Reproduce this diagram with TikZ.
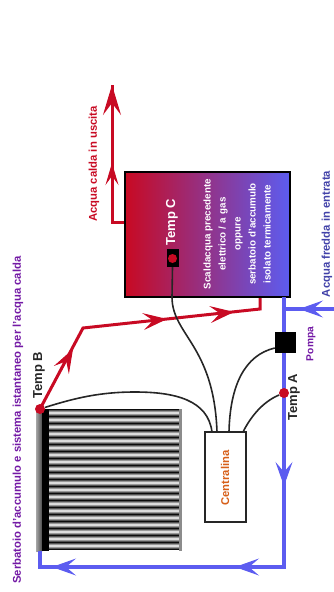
\documentclass[tikz,border=0pt]{standalone}
\usepackage{fontspec}
\setmainfont{Liberation Sans}
\usepackage{tikz}
\usetikzlibrary{arrows.meta}
\definecolor{hotred}{RGB}{200,10,35}
\definecolor{coldblue}{RGB}{92,92,240}
\definecolor{labelpurple}{RGB}{115,25,165}
\definecolor{labelorange}{RGB}{215,95,25}
\newcommand\sidelabel[1]{\fontsize{#1}{#1}\selectfont\bfseries}
\tikzset{
  hotpipe/.style={draw=hotred, line width=3pt},
  coldpipe/.style={draw=coldblue, line width=3.2pt},
  pipetip/.style={line width=1pt, -{Stealth[length=24pt, width=17pt, inset=10pt]}},
  wire/.style={draw=black!85, line width=1.6pt},
  sensor/.style={circle, fill=hotred, inner sep=0pt, minimum size=10pt},
  blackbox/.style={fill=black, inner sep=0pt},
  uplabel/.style={rotate=90, inner sep=0pt, font=\sidelabel{11.3}},
}

\begin{document}
\begin{tikzpicture}[x=1pt, y=-1pt]
\useasboundingbox (0,0) rectangle (334,592);
% collector fins (drawn first; the headers cover their ends)
\foreach \fin in {0,...,19}
  \shade[top color=black!95, bottom color=black!95, middle color=white]
    (49,409+7*\fin) rectangle (180,416+7*\fin);
\fill[black!45] (179,409) rectangle (182,551);
\shade[left color=black!35, right color=black!70] (36,409) rectangle (42,551);
\fill[black] (42,409) rectangle (49,551);
% tank and boxes
\node[draw=black, line width=2pt, left color=hotred, right color=coldblue, inner sep=0pt,
      minimum width=165pt, minimum height=125pt] (tank) at (207.5,234.5) {};
\node[draw=black!85, line width=1.6pt, fill=white, inner sep=0pt,
      minimum width=41pt, minimum height=90pt] (centralina) at (225.5,477) {};
\node[blackbox, minimum width=12pt, minimum height=18pt] (probeC) at (172.5,258) {};
% pipe corners
\coordinate (hotOutA) at (112,222);
\coordinate (hotOutB) at (112,163);
\coordinate (hotOutC) at (112,85);
\coordinate (hotInA) at (73,349);
\coordinate (hotInB) at (83,328);
\coordinate (hotInC) at (167,319);
\coordinate (hotInD) at (234,312);
\coordinate (hotInE) at (260,309);
\coordinate (coldTop) at (284,297);
\coordinate (coldJoin) at (284,309);
\coordinate (coldIn) at (334,309);
\coordinate (coldInTip) at (299,309);
\coordinate (coldDownTip) at (284,486);
\coordinate (coldCorner) at (284,567);
\coordinate (coldTipA) at (235,567);
\coordinate (coldTipB) at (52,567);
\coordinate (coldEnd) at (40,567);
\coordinate (coldHeader) at (40,551);
\coordinate (tempBpos) at (40,409);
% hot water
\draw[hotpipe] (tank.west |- hotOutA) -- (hotOutA) -- (hotOutC);
\draw[hotpipe] (tempBpos) -- (hotInB) -- (hotInE) -- (hotInE |- tank.south);
\draw[hotpipe, line width=1pt, -{Stealth[length=22pt, width=13pt, inset=9pt]}] (hotOutA) -- (hotOutB);
\draw[hotpipe, line width=1pt, -{Stealth[length=30pt, width=18pt, inset=12pt]}] (hotOutB) -- (hotOutC);
\draw[hotpipe, pipetip] (tempBpos) -- (hotInA);
\draw[hotpipe, pipetip] (hotInB) -- (hotInC);
\draw[hotpipe, pipetip] (hotInC) -- (hotInD);
% cold water
\draw[coldpipe] (coldIn) -- (coldJoin);
\draw[coldpipe] (coldTop) -- (coldCorner) -- (coldEnd) -- (coldHeader);
\draw[coldpipe, pipetip] (coldIn) -- (coldInTip);
\draw[coldpipe, pipetip] (coldJoin) -- (coldDownTip);
\draw[coldpipe, pipetip] (coldCorner) -- (coldTipA);
\draw[coldpipe, pipetip] (coldTipA) -- (coldTipB);
% pump and sensors go on top of the pipes
\node[blackbox, minimum width=21pt, minimum height=21pt] (pompa) at (285.5,342.5) {};
\node[sensor] (tempA) at (284,393) {};
\node[sensor] (tempB) at (tempBpos) {};
\node[sensor, minimum size=9pt] (tempC) at (172.5,258.5) {};
% wires
\draw[wire] (tempB) .. controls (75,398) and (100,392) .. (135,392)
  .. controls (175,392) and (208,400) .. (212,432);
\draw[wire] (probeC.south) -- (172,297) .. controls (172,335) and (214,345) .. (217,432);
\draw[wire] (pompa.west |- 0,348) .. controls (245,355) and (230,385) .. (229,432);
\draw[wire] (tempA) .. controls (262,402) and (250,418) .. (243,432);
% labels
\node[uplabel, text=labelpurple] (titolo) at (18,420) {Serbatoio d'accumulo e sistema istantaneo per l'acqua calda};
\node[uplabel, text=hotred] (uscita) at (94,164) {Acqua calda in uscita};
\node[uplabel, text=coldblue!70!black] (entrata) at (327,234) {Acqua fredda in entrata};
\node[uplabel, text=labelpurple, font=\sidelabel{10.2}] (pompaLabel) at (311,344) {Pompa};
\node[uplabel, text=black!85, font=\sidelabel{13}] (tempALabel) at (294,397) {Temp A};
\node[uplabel, text=black!85, font=\sidelabel{13}] (tempBLabel) at (39,375) {Temp B};
\node[uplabel, text=white, font=\sidelabel{13}] (tempCLabel) at (172,222) {Temp C};
\node[uplabel, text=labelorange, font=\sidelabel{11.3}] (centralinaLabel) at (225,478) {Centralina};
\node[rotate=90, align=center, text=white, inner sep=0pt, font=\sidelabel{9.8}, text width=125pt]
  (tankLabel) at (237,234) {Scaldacqua precedente\\[5.2pt]elettrico / a gas\\[5.2pt]oppure\\[5.2pt]serbatoio d'accumulo\\[5.2pt]isolato termicamente};
\end{tikzpicture}
\end{document}
